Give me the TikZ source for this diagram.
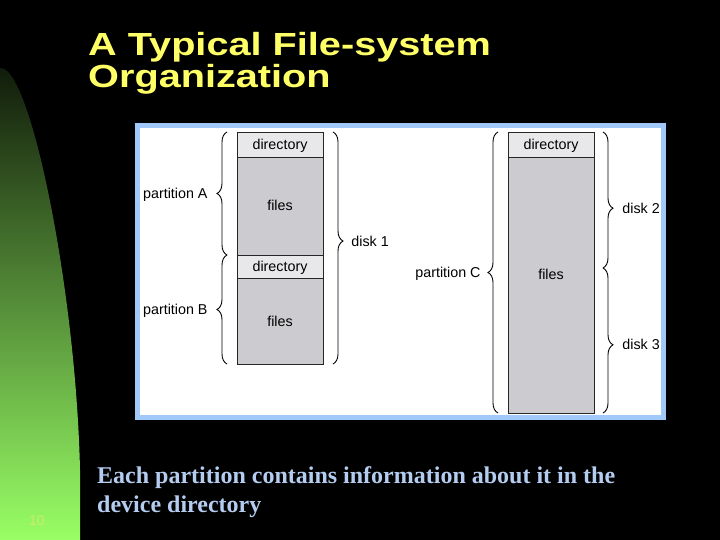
\documentclass[tikz,border=0pt]{standalone}
\usepackage{fontspec}
\setmainfont{Liberation Sans}
\newfontfamily\titlefont[FakeStretch=1.24]{Liberation Sans}
\newfontfamily\notefont{Liberation Serif}
\usepackage{xcolor}
\usetikzlibrary{decorations.pathreplacing}
\usetikzlibrary{positioning, math}

\definecolor{slidegreen}{RGB}{153,255,102}
\definecolor{slidemid}{RGB}{104,176,72}
\definecolor{slidedark}{RGB}{16,26,10}
\definecolor{titleyellow}{RGB}{255,255,102}
\definecolor{noteblue}{RGB}{180,204,240}
\definecolor{panelblue}{RGB}{160,200,248}
\definecolor{dirgray}{RGB}{232,232,234}
\definecolor{filegray}{RGB}{204,203,208}
\definecolor{pagecol}{RGB}{205,235,110}

\begin{document}
\begin{tikzpicture}[x=1pt, y=-1pt,
  cell/.style={draw=black!85, line width=0.9pt, minimum width=86pt, inner sep=0pt, outer sep=0pt,
    font=\fontsize{14.3}{16}\selectfont, text=black, text height=10pt, text depth=0pt},
  dircell/.style={cell, fill=dirgray},
  filecell/.style={cell, fill=filegray},
  curly/.style={decorate, decoration={brace, amplitude=10pt, #1}, line width=0.9pt, draw=black},
  curly/.default={aspect=0.5},
  lbl/.style={font=\fontsize{14.3}{16}\selectfont, text=black, inner sep=0pt, text height=10pt, text depth=0pt},
  titletext/.style={font=\titlefont\bfseries\fontsize{32}{34}\selectfont, text=titleyellow, inner sep=0pt},
  note/.style={font=\notefont\bfseries\fontsize{24}{28}\selectfont, text=noteblue, inner sep=0pt}
]
\tikzmath{
\cA=280;  % left column centre
\cC=551;  % right column centre
\rowtop=132;
}
\useasboundingbox (0,0) rectangle (720,540);
\fill[black] (0,0) rectangle (720,540);

% green side band
\shade[top color=slidedark, middle color=slidemid, bottom color=slidegreen]
  (0,540) -- (0,68) .. controls (30,64) and (76,290) .. (80,470) -- (80,540) -- cycle;
\node[font=\fontsize{14}{16}\selectfont, text=pagecol, inner sep=0pt] (pagenum) at (37,521) {10};

% title
\node[titletext, anchor=base west] (title1) at (88,56) {A Typical File-system};
\node[titletext, anchor=base west] (title2) at (88,88) {Organization};

% picture panel
\draw[panelblue, line width=5pt, fill=white] (137.5,125.5) rectangle (663.5,417.5);

% disk 1
\node[dircell, minimum height=25pt, anchor=north] (dirA) at (\cA,\rowtop) {directory};
\node[filecell, minimum height=98pt, below=0pt of dirA] (filesA) {files};
\node[dircell, minimum height=23pt, below=0pt of filesA] (dirB) {directory};
\node[filecell, minimum height=86pt, below=0pt of dirB] (filesB) {files};

% disks 2 and 3
\node[dircell, minimum height=25pt, anchor=north] (dirC) at (\cC,\rowtop) {directory};
\node[filecell, minimum height=256pt, below=0pt of dirC] (filesC) {};
\node[lbl] (filesCtext) at (\cC,274) {files};
\coordinate (split) at (603,268);

\draw[curly] ([xshift=-10pt]filesA.south west) -- ([xshift=-10pt]dirA.north west)
  node[lbl, pos=0.5, left=19pt] (partA) {partition A};
\draw[curly] ([xshift=-10pt]filesB.south west) -- ([xshift=-10pt]dirB.north west)
  node[lbl, pos=0.5, left=19pt] (partB) {partition B};
\draw[curly={aspect=0.47}] ([xshift=10pt]dirA.north east) -- ([xshift=10pt]filesB.south east)
  node[lbl, pos=0.47, right=18pt] (disk1) {disk 1};

\draw[curly] ([xshift=-10pt]filesC.south west) -- ([xshift=-10pt]dirC.north west)
  node[lbl, pos=0.5, left=17pt] (partC) {partition C};
\draw[curly={aspect=0.56}] ([xshift=9pt]dirC.north east) -- (split)
  node[lbl, pos=0.56, right=19pt] (disk2) {disk 2};
\draw[curly={aspect=0.53}] (split) -- ([xshift=9pt]filesC.south east)
  node[lbl, pos=0.53, right=19pt] (disk3) {disk 3};

% note
\node[note, anchor=base west] (note1) at (97,483) {Each partition contains information about it in the};
\node[note, anchor=base west] (note2) at (97,512) {device directory};
\end{tikzpicture}
\end{document}
